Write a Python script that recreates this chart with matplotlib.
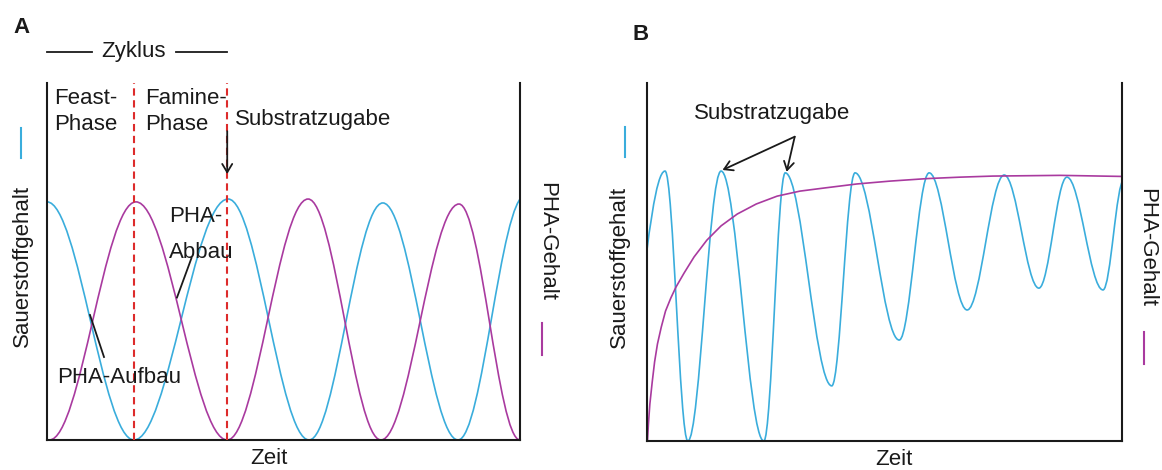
import matplotlib
matplotlib.use('Agg')
import matplotlib.pyplot as plt
from matplotlib.path import Path
from matplotlib.patches import PathPatch
from matplotlib.lines import Line2D
from matplotlib.transforms import Affine2D

# Schema-Daten: Zeit 0..100, Gehalt 0..100 (ohne Einheiten)
# A: Extrempunkte der Wellen (Zeit, Gehalt)
sauerstoff_a_zeit = [0.0, 18.4, 38.3, 55.4, 71.0, 86.9, 101.1]
sauerstoff_a_wert = [66.7, 0.0, 67.5, 0.0, 66.4, 0.0, 68.5]
pha_a_zeit = [0.5, 18.8, 38.1, 55.2, 70.6, 87.1, 100.0]
pha_a_wert = [0.0, 66.7, 0.0, 67.5, 0.0, 66.1, 0.0]
phasen_grenzen = [18.4, 38.1]

# B: Extrempunkte Sauerstoff, PHA als Kurvenpunkte
sauerstoff_b_zeit = [-6.7, 3.8, 8.6, 15.6, 24.6, 29.1, 38.9, 43.8, 53.1,
                     59.4, 67.4, 75.2, 82.5, 88.4, 96.0, 100.4]
sauerstoff_b_wert = [0.0, 75.4, 0.0, 75.4, 0.0, 74.9, 15.4, 74.9, 28.2,
                     74.9, 36.6, 74.3, 42.7, 73.7, 42.2, 73.0]
pha_b_zeit = [0.1, 0.3, 0.6, 1.1, 1.6, 2.2, 3.0, 3.9, 5.0, 6.1, 7.8, 9.9,
              12.6, 15.6, 19.0, 23.0, 27.4, 32.2, 37.5, 44.2, 51.2, 59.0,
              65.9, 72.8, 87.0, 100.0]
pha_b_wert = [0.0, 4.8, 10.3, 16.5, 22.1, 27.1, 31.8, 36.3, 39.9, 43.0,
              46.9, 51.4, 56.1, 60.1, 63.4, 66.2, 68.4, 69.8, 70.7, 71.8,
              72.6, 73.3, 73.7, 74.0, 74.2, 73.9]
zugabe_b = [3, 5]  # Index der Sauerstoff-Maxima mit Pfeil

BLAU = '#3AADDC'
MAGENTA = '#A93A9F'
ROT = '#DD2B2B'
SCHRIFT = 'Liberation Sans'

plt.rcParams['font.family'] = [SCHRIFT, 'DejaVu Sans']

W, H = 1162, 470
fig = plt.figure(figsize=(W / 100, H / 100), dpi=100)
# Pixel-Koordinaten (oben links = 0,0) fuer Beschriftungen
px = Affine2D().scale(1 / W, -1 / H).translate(0, 1) + fig.transFigure


def welle(ax, zeit, wert, farbe):
    # glatte Halbwellen zwischen den Extrempunkten (Bezier)
    verts = [(zeit[0], wert[0])]
    codes = [Path.MOVETO]
    for i in range(len(zeit) - 1):
        d = zeit[i + 1] - zeit[i]
        verts += [(zeit[i] + 0.3634 * d, wert[i]),
                  (zeit[i + 1] - 0.3634 * d, wert[i + 1]),
                  (zeit[i + 1], wert[i + 1])]
        codes += [Path.CURVE4] * 3
    ax.add_patch(PathPatch(Path(verts, codes), fill=False, ec=farbe, lw=1.2))


def rahmen(ax):
    ax.set_xlim(0, 100)
    ax.set_ylim(0, 100)
    ax.spines['top'].set_visible(False)
    for s in ['left', 'right', 'bottom']:
        ax.spines[s].set_linewidth(1.5)
        ax.spines[s].set_color('#1a1a1a')
    ax.set_xticks([])
    ax.set_yticks([])


def text(x, y, s, **kw):
    kw.setdefault('fontsize', 16)
    kw.setdefault('va', 'baseline')
    fig.text(x, y, s, transform=px, color='#1a1a1a', **kw)


def strich(xs, ys, farbe='#1a1a1a', lw=1.3):
    fig.add_artist(Line2D(xs, ys, transform=px, color=farbe, lw=lw))


# ---------------- A ----------------
ax1 = fig.add_axes([47 / W, 30 / H, 473 / W, 357 / H])
rahmen(ax1)
welle(ax1, sauerstoff_a_zeit, sauerstoff_a_wert, BLAU)
welle(ax1, pha_a_zeit, pha_a_wert, MAGENTA)
for g in phasen_grenzen:
    ax1.plot([g, g], [0, 100], color=ROT, lw=1.5, dashes=(3.5, 2.2),
             clip_on=False, zorder=3)
ax1.annotate('', xy=(phasen_grenzen[1], 74.5), xytext=(phasen_grenzen[1], 86.5),
             arrowprops=dict(arrowstyle='->, head_length=0.5, head_width=0.3',
                             color='#1a1a1a', lw=1.3, mutation_scale=12,
                             shrinkA=0, shrinkB=0), zorder=4)

text(13, 33.3, 'A', fontweight='bold')
text(134, 57, 'Zyklus', ha='center')
strich([47, 92], [51.7, 51.7])
strich([176, 227], [51.7, 51.7])
text(54, 103.5, 'Feast-')
text(54, 130.5, 'Phase')
text(145, 103.5, 'Famine-')
text(145, 130.5, 'Phase')
text(235, 125, 'Substratzugabe')
text(169, 221.7, 'PHA-')
text(169, 258.3, 'Abbau')
strich([191.5, 177], [258, 297.5])
text(57, 383.3, 'PHA-Aufbau')
strich([90, 104], [315, 357])
text(269, 464.5, 'Zeit', ha='center')
text(22.5, 266, 'Sauerstoffgehalt', rotation=90, ha='center', va='center')
text(546.6, 241, 'PHA-Gehalt', rotation=270, ha='center', va='center')
strich([20.5, 20.5], [128, 158], BLAU, 1.5)
strich([542, 542], [323, 355], MAGENTA, 1.5)

# ---------------- B ----------------
ax2 = fig.add_axes([647 / W, 29 / H, 475 / W, 358 / H])
rahmen(ax2)
welle(ax2, sauerstoff_b_zeit, sauerstoff_b_wert, BLAU)
ax2.plot(pha_b_zeit, pha_b_wert, color=MAGENTA, lw=1.2)
for i in zugabe_b:
    ax2.annotate('', xy=(sauerstoff_b_zeit[i] + 0.3, sauerstoff_b_wert[i] + 0.3),
                 xytext=(31.1, 85.0),
                 arrowprops=dict(arrowstyle='->, head_length=0.5, head_width=0.3',
                                 color='#1a1a1a', lw=1.3, mutation_scale=12,
                                 shrinkA=0, shrinkB=0))

text(633, 40, 'B', fontweight='bold')
text(694, 119, 'Substratzugabe')
text(894, 465, 'Zeit', ha='center')
text(619.6, 266.5, 'Sauerstoffgehalt', rotation=90, ha='center', va='center')
text(1147, 247, 'PHA-Gehalt', rotation=270, ha='center', va='center')
strich([625, 625], [127, 157], BLAU, 1.5)
strich([1143.5, 1143.5], [332, 364], MAGENTA, 1.5)

fig.savefig('out.png', dpi=100)
